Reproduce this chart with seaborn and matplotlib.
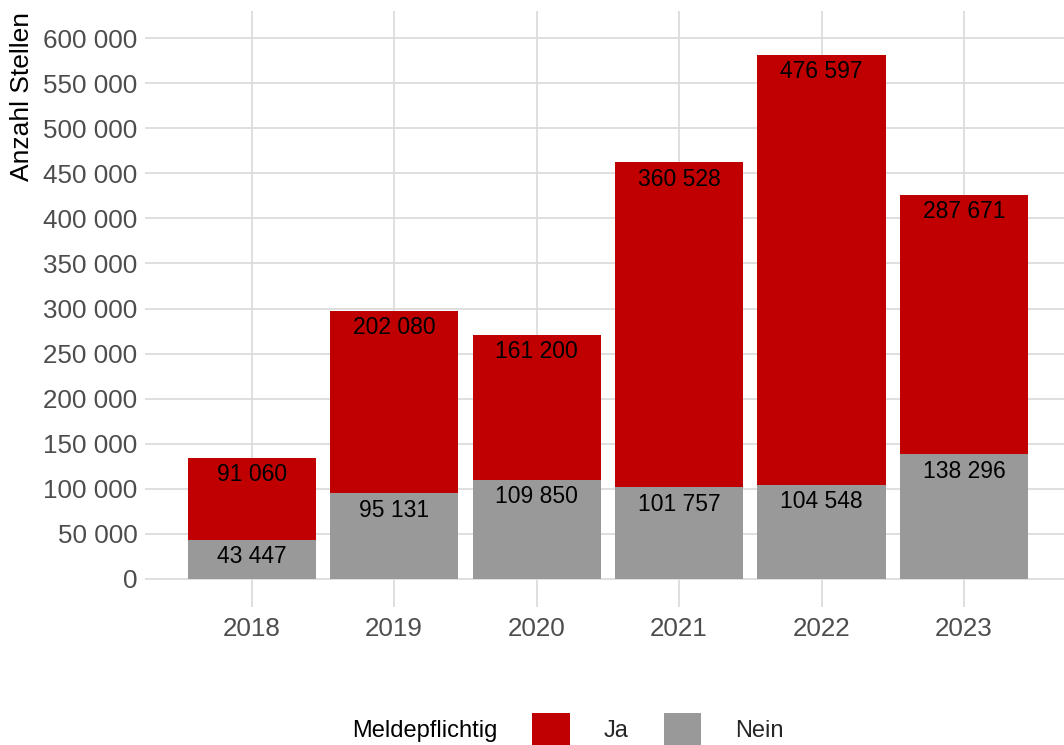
import matplotlib
matplotlib.use("Agg")
import matplotlib.pyplot as plt
from matplotlib.ticker import FuncFormatter, MultipleLocator
import pandas as pd
import seaborn as sns

# Stellen pro Jahr, aufgeteilt nach Meldepflicht
years = ["2018", "2019", "2020", "2021", "2022", "2023"]
ja = [91060, 202080, 161200, 360528, 476597, 287671]
nein = [43447, 95131, 109850, 101757, 104548, 138296]

legend_title = "Meldepflichtig"
legend_labels = ["Ja", "Nein"]
y_title = "Anzahl Stellen"

RED = "#C00000"
GREY = "#999999"

sns.set_theme(style="whitegrid")
plt.rcParams["font.family"] = ["Liberation Sans", "DejaVu Sans"]

df = pd.DataFrame({"Jahr": years, "Ja": ja, "Nein": nein})
df["Gesamt"] = df["Ja"] + df["Nein"]

W, H = 1064, 745
fig = plt.figure(figsize=(W / 100, H / 100), dpi=100)
ax = fig.add_axes([145 / W, 1 - 607 / H, (W - 145) / W, (607 - 11) / H])

# stacked bars: full total in red, "Nein" part drawn over it in grey
sns.barplot(data=df, x="Jahr", y="Gesamt", color=RED, width=0.9,
            saturation=1, ax=ax, label=legend_labels[0], zorder=2,
            linewidth=0)
sns.barplot(data=df, x="Jahr", y="Nein", color=GREY, width=0.9,
            saturation=1, ax=ax, label=legend_labels[1], zorder=2,
            linewidth=0)

def fmt(v, _=None):
    return f"{v:,.0f}".replace(",", " ")

# value labels just below the top of each segment
for i, row in df.iterrows():
    ax.annotate(fmt(row["Ja"]), (i, row["Gesamt"]), xytext=(0, -12.2),
                textcoords="offset points", ha="center", va="center",
                fontsize=16.5, color="black", zorder=3)
    ax.annotate(fmt(row["Nein"]), (i, row["Nein"]), xytext=(0, -12.2),
                textcoords="offset points", ha="center", va="center",
                fontsize=16.5, color="black", zorder=3)

ax.set_xlim(-0.749, 5.702)
ax.set_ylim(-31054, 629945)
ax.yaxis.set_major_locator(MultipleLocator(50000))
ax.yaxis.set_major_formatter(FuncFormatter(fmt))

ax.set_facecolor("white")
ax.grid(True, color="#dcdcdc", linewidth=1.3)
ax.set_axisbelow(True)
for s in ax.spines.values():
    s.set_visible(False)
ax.tick_params(axis="both", length=0, labelsize=18.7, labelcolor="#4d4d4d")
ax.tick_params(axis="y", pad=5.5)
ax.tick_params(axis="x", pad=7)
ax.set_xlabel("")
ax.set_ylabel("")
if ax.get_legend() is not None:
    ax.get_legend().remove()

fig.text(22 / W, 1 - 12 / H, y_title, rotation=90, ha="center", va="top",
         fontsize=19, color="black")

# legend along the bottom edge
handles, labels = ax.get_legend_handles_labels()
fig.text(497 / W, 1 - 731 / H, legend_title, ha="right", va="center",
         fontsize=17, color="black")
leg = fig.legend(handles, labels, loc="center left",
                 bbox_to_anchor=(532 / W, 1 - 729 / H), ncol=2,
                 frameon=False, fontsize=17, handlelength=1.6,
                 handleheight=1.75, handletextpad=1.42, columnspacing=1.5,
                 borderpad=0, borderaxespad=0)

fig.savefig("out.png", dpi=100, facecolor="white")
